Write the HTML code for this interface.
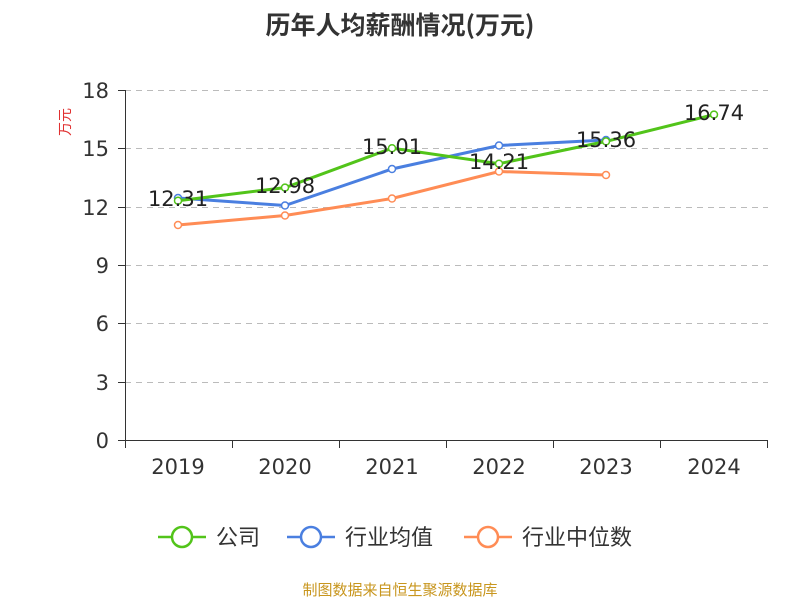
<!DOCTYPE html>
<html><head><meta charset="utf-8"><style>
body{margin:0;background:#fff;}
svg text{font-family:"DejaVu Sans","Noto Sans CJK SC",sans-serif;}
</style></head><body>
<svg width="800" height="600" xmlns="http://www.w3.org/2000/svg">
<text x="400" y="34" text-anchor="middle" font-size="25" font-weight="bold" fill="#333" style="font-family:'Noto Sans CJK SC',sans-serif">历年人均薪酬情况(万元)</text>
<text x="70" y="122" font-size="14" fill="#e03030" transform="rotate(-90 70 122)" text-anchor="middle" style="font-family:'Noto Sans CJK SC',sans-serif">万元</text>
<g stroke="#bbb" stroke-dasharray="6,5" stroke-width="1">
<line x1="125" y1="90.5" x2="768" y2="90.5"/><line x1="125" y1="148.5" x2="768" y2="148.5"/>
<line x1="125" y1="207.5" x2="768" y2="207.5"/><line x1="125" y1="265.5" x2="768" y2="265.5"/>
<line x1="125" y1="323.5" x2="768" y2="323.5"/><line x1="125" y1="382.5" x2="768" y2="382.5"/>
</g>
<g stroke="#333" stroke-width="1">
<line x1="125.5" y1="90" x2="125.5" y2="440"/>
<line x1="125" y1="440.5" x2="768" y2="440.5"/>
<line x1="118" y1="90.5" x2="125" y2="90.5"/><line x1="118" y1="148.5" x2="125" y2="148.5"/>
<line x1="118" y1="207.5" x2="125" y2="207.5"/><line x1="118" y1="265.5" x2="125" y2="265.5"/>
<line x1="118" y1="323.5" x2="125" y2="323.5"/><line x1="118" y1="382.5" x2="125" y2="382.5"/>
<line x1="118" y1="440.5" x2="125" y2="440.5"/>
<line x1="125.5" y1="440" x2="125.5" y2="448"/><line x1="232.5" y1="440" x2="232.5" y2="448"/>
<line x1="339.5" y1="440" x2="339.5" y2="448"/><line x1="446.5" y1="440" x2="446.5" y2="448"/>
<line x1="553.5" y1="440" x2="553.5" y2="448"/><line x1="660.5" y1="440" x2="660.5" y2="448"/>
<line x1="767.5" y1="440" x2="767.5" y2="448"/>
</g>
<g font-size="21" fill="#333" text-anchor="end">
<text x="109" y="98">18</text><text x="109" y="156">15</text><text x="109" y="215">12</text>
<text x="109" y="273">9</text><text x="109" y="331">6</text><text x="109" y="390">3</text><text x="109" y="448">0</text>
</g>
<g font-size="21" fill="#333" text-anchor="middle">
<text x="178" y="474">2019</text><text x="285" y="474">2020</text><text x="392" y="474">2021</text>
<text x="499" y="474">2022</text><text x="606" y="474">2023</text><text x="714" y="474">2024</text>
</g>
<polyline fill="none" stroke="#ff8c55" stroke-width="3" points="178,225 285,215.5 392,198.5 499,171.5 606,175"/>
<polyline fill="none" stroke="#4a7fe0" stroke-width="3" points="178,198 285,205.5 392,169 499,145.5 606,140"/>
<polyline fill="none" stroke="#52c41a" stroke-width="3" points="178,200.7 285,187.6 392,148.2 499,163.7 606,141.4 714,114.6"/>
<g fill="#fff" stroke-width="1.5">
<g stroke="#ff8c55"><circle cx="178" cy="225" r="3.5"/><circle cx="285" cy="215.5" r="3.5"/><circle cx="392" cy="198.5" r="3.5"/><circle cx="499" cy="171.5" r="3.5"/><circle cx="606" cy="175" r="3.5"/></g>
<g stroke="#4a7fe0"><circle cx="178" cy="198" r="3.5"/><circle cx="285" cy="205.5" r="3.5"/><circle cx="392" cy="169" r="3.5"/><circle cx="499" cy="145.5" r="3.5"/><circle cx="606" cy="140" r="3.5"/></g>
<g stroke="#52c41a"><circle cx="178" cy="200.7" r="3.5"/><circle cx="285" cy="187.6" r="3.5"/><circle cx="392" cy="148.2" r="3.5"/><circle cx="499" cy="163.7" r="3.5"/><circle cx="606" cy="141.4" r="3.5"/><circle cx="714" cy="114.6" r="3.5"/></g>
</g>
<g font-size="21" fill="#222" text-anchor="middle">
<text x="178" y="206">12.31</text><text x="285" y="193">12.98</text><text x="392" y="154">15.01</text>
<text x="499" y="169">14.21</text><text x="606" y="147">15.36</text><text x="714" y="120">16.74</text>
</g>
<g stroke-width="2.5" fill="#fff">
<line x1="158" y1="537" x2="206" y2="537" stroke="#52c41a"/><circle cx="182" cy="537" r="10" stroke="#52c41a"/>
<line x1="287" y1="537" x2="335" y2="537" stroke="#4a7fe0"/><circle cx="311" cy="537" r="10" stroke="#4a7fe0"/>
<line x1="464" y1="537" x2="512" y2="537" stroke="#ff8c55"/><circle cx="488" cy="537" r="10" stroke="#ff8c55"/>
</g>
<g font-size="22" fill="#333" style="font-family:'Noto Sans CJK SC',sans-serif">
<text x="216" y="545">公司</text><text x="345" y="545">行业均值</text><text x="522" y="545">行业中位数</text>
</g>
<text x="400" y="595" text-anchor="middle" font-size="15" fill="#c8961e" style="font-family:'Noto Sans CJK SC',sans-serif">制图数据来自恒生聚源数据库</text>
</svg>
</body></html>
